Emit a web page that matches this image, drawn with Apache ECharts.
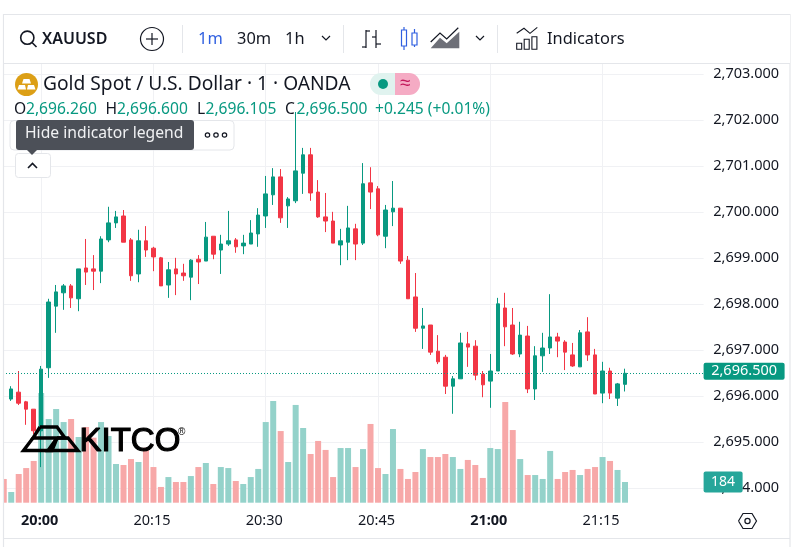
<!DOCTYPE html>
<html>
<head>
<meta charset="utf-8">
<style>html,body{margin:0;padding:0;background:#fff}#c{width:793px;height:547px}</style>
<script src="https://cdn.jsdelivr.net/npm/echarts@6/dist/echarts.min.js"></script>
</head>
<body>
<div id="c"></div>
<script>
const tickLabels = ['20:00','20:15','20:30','20:45','21:00','21:15'];
const boldLabels = ['20:00','21:00'];
const startMinute = 19 * 60 + 55;
const slotCount = 94;
const categories = [];
for (let i = 0; i < slotCount; i++) {
  const m = startMinute + i;
  categories.push(Math.floor(m / 60) + ':' + String(m % 60).padStart(2, '0'));
}
const opens = [null,2695.94,2696.09,2695.88,2695.72,2695.25,2696.62,2697.96,2698.25,2698.40,2698.12,2698.79,2698.77,2698.72,2699.40,2699.77,2699.92,2699.40,2698.66,2699.38,2699.22,2699.01,2698.42,2698.77,2698.68,2698.59,2698.98,2698.94,2699.48,2699.18,2699.31,2699.40,2699.27,2699.31,2699.53,2699.92,2700.38,2700.77,2700.14,2700.25,2700.85,2701.25,2700.44,2699.90,2699.81,2699.29,2699.35,2699.64,2699.33,2700.64,2700.51,2699.48,2700.01,2700.09,2698.96,2698.16,2697.48,2697.55,2696.98,2696.85,2696.22,2696.38,2697.14,2697.09,2696.48,2696.33,2696.55,2697.92,2697.55,2696.92,2697.31,2696.16,2696.88,2697.05,2697.29,2697.18,2696.90,2696.64,2697.40,2696.90,2696.07,2696.55,2695.96,2696.26];
const highs = [null,2696.22,2696.55,2695.90,2695.72,2696.66,2698.12,2698.42,2698.44,2698.44,2698.77,2699.42,2699.07,2699.48,2700.12,2700.03,2700.05,2699.44,2699.62,2699.70,2699.25,2699.03,2698.92,2699.01,2698.88,2698.98,2699.07,2699.79,2699.48,2699.51,2700.03,2699.44,2699.51,2699.83,2700.09,2700.79,2700.96,2700.94,2700.33,2702.18,2701.40,2701.40,2700.70,2700.42,2700.01,2699.64,2700.14,2699.75,2701.07,2700.98,2700.57,2700.16,2700.68,2700.09,2699.05,2698.68,2697.92,2697.55,2697.33,2696.90,2696.44,2697.38,2697.40,2697.22,2696.55,2696.92,2698.14,2698.25,2697.92,2697.62,2697.53,2697.09,2697.38,2698.22,2697.38,2697.22,2697.16,2697.44,2697.72,2697.03,2696.75,2696.62,2696.29,2696.60];
const lows = [null,2695.90,2695.81,2695.38,2695.18,2694.46,2696.40,2697.38,2697.88,2697.92,2697.85,2698.42,2698.31,2698.46,2699.35,2699.66,2699.35,2698.51,2698.48,2699.03,2698.72,2698.40,2698.14,2698.20,2698.51,2698.09,2698.44,2698.94,2698.98,2698.66,2699.27,2699.12,2699.09,2699.31,2699.25,2699.66,2700.16,2699.77,2699.66,2700.20,2700.40,2700.25,2699.88,2699.57,2699.33,2698.85,2698.96,2698.96,2699.29,2700.07,2699.48,2699.22,2699.70,2698.88,2698.12,2697.40,2697.03,2696.90,2696.70,2696.05,2695.62,2696.38,2696.64,2696.35,2695.98,2695.75,2696.55,2697.09,2696.90,2696.85,2696.07,2695.92,2696.53,2696.92,2696.85,2696.57,2696.64,2696.64,2696.77,2696.05,2695.85,2695.94,2695.79,2696.105];
const closes = [null,2696.16,2695.85,2695.72,2695.25,2696.59,2698.05,2698.27,2698.40,2698.14,2698.77,2698.70,2698.72,2699.42,2699.77,2699.90,2699.35,2698.62,2699.38,2699.18,2699.03,2698.40,2698.75,2698.66,2698.62,2698.96,2698.92,2699.46,2699.09,2699.31,2699.38,2699.25,2699.33,2699.55,2699.94,2700.40,2700.77,2699.88,2700.29,2700.90,2701.25,2700.42,2699.90,2699.81,2699.33,2699.38,2699.66,2699.31,2700.62,2700.44,2699.51,2700.05,2700.09,2698.94,2698.12,2697.48,2697.53,2696.96,2696.75,2696.22,2696.38,2697.16,2697.07,2696.46,2696.25,2696.55,2698.01,2697.51,2696.92,2697.33,2696.16,2696.88,2697.05,2697.29,2697.20,2696.96,2696.66,2697.38,2696.90,2696.05,2696.55,2696.07,2696.27,2696.50];
const volumes = [211,95,255,308,371,975,744,833,717,744,584,673,578,717,593,344,335,388,362,489,317,140,228,184,184,237,317,353,166,317,308,193,166,228,300,717,904,637,362,869,664,433,549,469,228,486,486,317,477,700,308,255,655,300,211,273,477,406,406,433,406,300,380,335,220,486,477,895,646,388,246,246,211,460,211,273,291,246,300,317,406,371,291,184];
const lastPrice = 2696.5;
const lastVolume = 184;

const GREEN = '#089981', RED = '#F23645';
const FONT = '"Noto Sans", sans-serif';
const INK = '#131722', RULE = '#e4e6ea', GRID = '#f0f1f4';

const candleData = categories.map((c, i) =>
  opens[i] == null || opens[i] === undefined ? '-' : [opens[i], closes[i], lows[i], highs[i]]);
const volumeData = categories.map((c, i) => {
  if (volumes[i] === undefined) return '-';
  const up = opens[i] != null && closes[i] >= opens[i];
  return { value: volumes[i], itemStyle: { color: up ? '#94d2ca' : '#f7a8a8' } };
});
const isTick = (i, v) => tickLabels.includes(v);

// chrome helpers
const Z = 100;
const txt = (text, x, y, size, fill, weight, align) => ({
  type: 'text', z: Z, silent: true,
  style: { text, x, y, fill, font: (weight || 400) + ' ' + size + 'px ' + FONT,
           align: align || 'left', verticalAlign: 'middle', textAlign: align || 'left', textVerticalAlign: 'middle' }
});
const line = (x1, y1, x2, y2, stroke, w) => ({
  type: 'line', z: Z, silent: true, shape: { x1, y1, x2, y2 }, style: { stroke: stroke || INK, lineWidth: w || 1 }
});
const rect = (x, y, width, height, fill, stroke, r, w) => ({
  type: 'rect', z: Z, silent: true, shape: { x, y, width, height, r: r || 0 },
  style: { fill: fill || 'none', stroke: stroke || 'none', lineWidth: w || 1 }
});
const circ = (cx, cy, r, fill, stroke, w) => ({
  type: 'circle', z: Z, silent: true, shape: { cx, cy, r }, style: { fill: fill || 'none', stroke: stroke || 'none', lineWidth: w || 1 }
});
const poly = (points, stroke, w, fill) => ({
  type: fill ? 'polygon' : 'polyline', z: Z, silent: true, shape: { points },
  style: { fill: fill || 'none', stroke: stroke || 'none', lineWidth: w || 1 }
});
const zPlus = (el, dz) => Object.assign(el, { z: Z + dz });

const BLUE = '#2f5fe0';
const OHLC = 15.6;
const graphics = [
  // frame and cover for the clipped left edge
  zPlus(rect(0, 64, 3.2, 483, '#fff'), -1),
  rect(3.5, 14.5, 786.5, 540, null, RULE, 0, 1.2),
  rect(4, 15, 786, 48, '#fff'),
  line(3.5, 63.5, 790, 63.5, RULE, 1.2),
  line(3.5, 538.5, 790, 538.5, RULE, 1.2),
  // toolbar
  circ(27.3, 37.7, 6.6, null, INK, 1.6),
  line(32, 42.5, 36.5, 47, INK, 1.6),
  txt('XAUUSD', 42, 39, 16, INK, 600),
  circ(152, 39, 11.5, null, INK, 1.2),
  line(146, 39, 158, 39, INK, 1.2),
  line(152, 33, 152, 45, INK, 1.2),
  line(182.5, 25, 182.5, 53, RULE, 1),
  txt('1m', 198, 39.5, 16.4, BLUE, 400),
  txt('30m', 237, 39.5, 16.4, INK, 400),
  txt('1h', 285, 39.5, 16.4, INK, 400),
  poly([[322, 36], [326, 40], [330, 36]], INK, 1.2),
  line(343.5, 25, 343.5, 53, RULE, 1),
  line(366, 30, 366, 48, INK, 1.2), line(366, 31, 370, 31, INK, 1.2), line(362, 47, 366, 47, INK, 1.2),
  line(376, 30, 376, 48, INK, 1.2), line(372, 37, 376, 37, INK, 1.2), line(376, 44, 381, 44, INK, 1.2),
  rect(401.5, 30, 5, 16, '#fff', BLUE, 0, 1.2), line(404, 27, 404, 30, BLUE, 1.2), line(404, 46, 404, 50, BLUE, 1.2),
  rect(412, 33, 5, 12, '#fff', BLUE, 0, 1.2), line(414.5, 29, 414.5, 33, BLUE, 1.2), line(414.5, 45, 414.5, 47, BLUE, 1.2),
  poly([[430.7, 42], [440, 33], [446.7, 39], [458.3, 27.7]], INK, 1.2),
  poly([[430.7, 48.3], [440, 37.7], [446.7, 43.3], [459.3, 31.7], [459.3, 48.3]], 'none', 0, '#6e7078'),
  poly([[476, 36], [480, 40], [484, 36]], INK, 1.2),
  line(497.5, 25, 497.5, 53, RULE, 1),
  poly([[516.7, 33.3], [524, 28.3], [530, 33.3], [537.3, 27.3]], INK, 1.1),
  rect(516.7, 43.3, 5, 6, null, INK, 0, 1.1),
  rect(524.2, 39.3, 5, 10, null, INK, 0, 1.1),
  rect(531.9, 36.7, 5, 12.6, null, INK, 0, 1.1),
  txt('Indicators', 547, 39.5, 16.4, INK, 400),
  // legend row
  circ(26.5, 84.5, 11.5, '#dc9f16'),
  poly([[23.5, 79], [29.5, 79], [31, 83.5], [22, 83.5]], 'none', 0, '#fff'),
  poly([[19, 85], [25, 85], [26, 89.5], [17.5, 89.5]], 'none', 0, '#fff'),
  poly([[28, 85], [34, 85], [35.5, 89.5], [27, 89.5]], 'none', 0, '#fff'),
  txt('Gold Spot / U.S. Dollar · 1 · OANDA', 43, 85, 19.2, INK, 400),
  rect(370, 73, 25, 22, '#e0f3ef', null, [11, 0, 0, 11]),
  rect(395, 73, 25, 22, '#f5abc4', null, [0, 11, 11, 0]),
  circ(383, 84, 5, GREEN),
  zPlus(txt('≈', 400, 84, 19, '#c2185b', 400), 2),
  txt('O', 14, 110, OHLC, INK), txt('2,696.260', 26, 110, OHLC, GREEN),
  txt('H', 105.5, 110, OHLC, INK), txt('2,696.600', 117, 110, OHLC, GREEN),
  txt('L', 197, 110, OHLC, INK), txt('2,696.105', 205.5, 110, OHLC, GREEN),
  txt('C', 285, 110, OHLC, INK), txt('2,696.500', 296.5, 110, OHLC, GREEN),
  txt('+0.245 (+0.01%)', 375, 110, OHLC, GREEN),
  rect(10, 120.5, 224, 29.5, '#fff', RULE, 4),
  circ(207.5, 135, 2.2, null, INK, 1.2), circ(216, 135, 2.2, null, INK, 1.2), circ(224.5, 135, 2.2, null, INK, 1.2),
  rect(15.5, 153.5, 35, 24, '#fff', RULE, 3),
  poly([[28, 168], [32.5, 163.5], [37, 168]], INK, 1.6),
  zPlus(rect(16, 120, 178, 30, '#4c5058', null, 3), 2),
  zPlus(poly([[27, 150], [37, 150], [32, 155]], 'none', 0, '#4c5058'), 2),
  zPlus(txt('Hide indicator legend', 25, 134, 15.7, '#f0f1f3', 400), 3),
  // hexagon settings
  poly([[738.5, 521], [743, 513.5], [752, 513.5], [756.5, 521], [752, 528.5], [743, 528.5], [738.5, 521]], INK, 1.2),
  circ(747.5, 521, 2.6, null, INK, 1.2),
  // KITCO logo
  poly([[40, 427], [57, 427], [65, 438], [33, 438], [40, 427]], '#000', 3.4),
  poly([[33, 438], [23.5, 450.5], [52, 450.5], [57, 438]], '#000', 3.4),
  poly([[57, 438], [68, 438], [78, 450.5], [48, 450.5], [57, 438]], '#000', 3.4),
  { type: 'text', z: Z, silent: true, style: { text: 'KITCO', x: 79.5, y: 442, fill: '#000',
      font: '400 33px "Liberation Sans", sans-serif', align: 'left', verticalAlign: 'middle', textAlign: 'left', textVerticalAlign: 'middle', stroke: '#000', lineWidth: 1.2 } },
  { type: 'text', z: Z, silent: true, style: { text: '®', x: 178, y: 432, fill: '#000',
      font: '400 10px "Liberation Sans", sans-serif', align: 'left', verticalAlign: 'middle', textAlign: 'left', textVerticalAlign: 'middle' } }
];

const gridLeft = -1.88, gridRight = 793 - 703.6;
const option = {
  animation: false,
  backgroundColor: '#fff',
  textStyle: { fontFamily: FONT },
  grid: [
    { left: gridLeft, right: gridRight, top: 64, height: 438.7 },
    { left: gridLeft, right: gridRight, top: 74.3, height: 414 }
  ],
  xAxis: [
    { type: 'category', gridIndex: 0, data: categories, boundaryGap: true,
      axisLine: { show: false }, axisTick: { show: false, alignWithLabel: true },
      splitLine: { show: true, alignWithLabel: true, interval: isTick, lineStyle: { color: GRID, width: 1 } },
      axisLabel: { interval: isTick, margin: 11, fontSize: 14.5, color: INK, fontFamily: FONT, hideOverlap: false, padding: [0, 3, 0, 0],
        formatter: v => boldLabels.includes(v) ? '{b|' + v + '}' : v,
        rich: { b: { fontSize: 14.5, fontWeight: 700, color: INK, fontFamily: FONT } } } },
    { type: 'category', gridIndex: 1, data: categories, boundaryGap: true, show: false }
  ],
  yAxis: [
    { type: 'value', gridIndex: 0, min: 0, max: 3900, show: false },
    { type: 'value', gridIndex: 1, position: 'right', min: 2694, max: 2703, interval: 1, scale: true,
      axisLine: { show: false }, axisTick: { show: false },
      splitLine: { show: true, lineStyle: { color: GRID, width: 1 } },
      axisLabel: { margin: 9.7, fontSize: 14.5, color: INK, fontFamily: FONT, padding: [0, 0, 4, 0], showMinLabel: true, showMaxLabel: true,
        formatter: v => v.toLocaleString('en-US', { minimumFractionDigits: 3, maximumFractionDigits: 3 }) } }
  ],
  series: [
    { type: 'bar', name: 'Vol', xAxisIndex: 0, yAxisIndex: 0, data: volumeData, barWidth: 6, z: 2, silent: true,
      markLine: { silent: true, symbol: 'none', lineStyle: { color: 'rgba(0,0,0,0)', width: 0 }, z: 50, data: [{ yAxis: lastVolume }],
        label: { show: true, position: 'end', distance: 0, formatter: String(lastVolume), color: '#fff', fontSize: 14, fontFamily: FONT,
          backgroundColor: '#26a69a', width: 39, height: 21, lineHeight: 21, align: 'center', borderRadius: 2, offset: [19.5, 0] } } },
    { type: 'candlestick', name: 'XAUUSD', xAxisIndex: 1, yAxisIndex: 1, data: candleData, barWidth: 4, z: 3, silent: true,
      itemStyle: { color: GREEN, color0: RED, borderColor: GREEN, borderColor0: RED, borderWidth: 1 },
      markLine: { silent: true, symbol: 'none', z: 40, data: [{ yAxis: lastPrice }],
        lineStyle: { color: GREEN, type: [1, 2], width: 1 },
        label: { position: 'end', distance: 0, formatter: v => v.value.toLocaleString('en-US', { minimumFractionDigits: 3 }),
          color: '#fff', fontSize: 14.5, fontFamily: FONT, backgroundColor: GREEN, width: 81, height: 17, lineHeight: 17,
          align: 'center', borderRadius: 2, offset: [40.5, -2] } } }
  ],
  graphic: { elements: graphics }
};
const chart = echarts.init(document.getElementById('c'), null, { renderer: 'canvas' });
chart.setOption(option);
</script>
</body>
</html>
